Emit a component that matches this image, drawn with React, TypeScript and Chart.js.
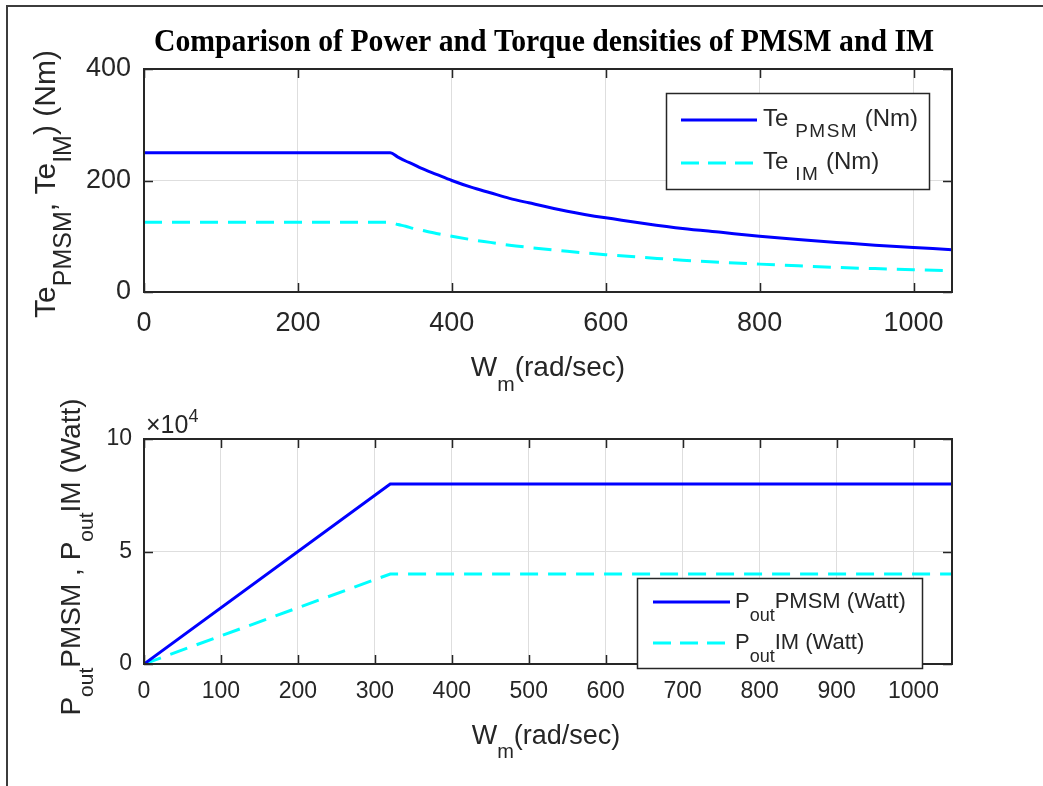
import React, { useEffect, useRef } from "react";
import { Chart, registerables } from "chart.js";
Chart.register(...registerables);

const TITLE = "Comparison of Power and Torque densities of PMSM and IM";

// Torque vs speed (rad/sec)
const speedTorque = [0, 320, 330, 340, 350, 360, 380, 400, 425, 450, 475, 500, 550, 600, 650, 700, 750, 800, 850, 900, 950, 1000, 1050];
const tePMSM = [250, 250, 242, 235, 229, 222, 211, 200, 188, 178, 168, 160, 145, 133, 123, 114, 107, 100, 94, 89, 84, 80, 76];
const teIM = [125, 125, 121, 118, 114, 111, 105, 100, 94, 89, 84, 80, 73, 67, 62, 57, 53, 50, 47, 44, 42, 40, 38];

// Power vs speed
const speedPower = [0, 320, 1050];
const pPMSM = [0, 80000, 80000];
const pIM = [0, 40000, 40000];

const torqueXTicks = [0, 200, 400, 600, 800, 1000];
const torqueYTicks = [0, 200, 400];
const powerXTicks = [0, 100, 200, 300, 400, 500, 600, 700, 800, 900, 1000];
const powerYTicks = [0, 50000, 100000];
const powerYTickLabels = ["0", "5", "10"];

const TXT = "#262626";
const AX = "#262626";
const GRID = "#dedede";
const SANS = "'Liberation Sans', Arial, Helvetica, sans-serif";

type Seg = { t: string; sub?: boolean; sup?: boolean };
type RichOpt = { size: number; subSize: number; subDy: number; supDy?: number; align?: "left" | "center"; subSpacing?: number };

function segFont(s: Seg, o: RichOpt) {
  return `${s.sub || s.sup ? o.subSize : o.size}px ${SANS}`;
}

function drawRich(ctx: CanvasRenderingContext2D, segs: Seg[], x: number, y: number, o: RichOpt, rotate = false) {
  ctx.save();
  ctx.fillStyle = TXT;
  ctx.textBaseline = "alphabetic";
  ctx.textAlign = "left";
  const anyCtx = ctx as any;
  let total = 0;
  const widths = segs.map((s) => {
    ctx.font = segFont(s, o);
    anyCtx.letterSpacing = s.sub && o.subSpacing ? `${o.subSpacing}px` : "0px";
    const w = ctx.measureText(s.t).width;
    total += w;
    return w;
  });
  ctx.translate(x, y);
  if (rotate) ctx.rotate(-Math.PI / 2);
  let cx = o.align === "center" ? -total / 2 : 0;
  segs.forEach((s, i) => {
    ctx.font = segFont(s, o);
    anyCtx.letterSpacing = s.sub && o.subSpacing ? `${o.subSpacing}px` : "0px";
    const dy = s.sub ? o.subDy : s.sup ? o.supDy || 0 : 0;
    ctx.fillText(s.t, cx, dy);
    cx += widths[i];
  });
  anyCtx.letterSpacing = "0px";
  ctx.restore();
}

type LegendItem = { color: string; dash: number[]; segs: Seg[] };
type PanelCfg = {
  title?: boolean;
  xLabel: { segs: Seg[]; x: number; y: number; o: RichOpt };
  yLabel: { segs: Seg[]; x: number; y: number; o: RichOpt };
  legend: { x0: number; y0: number; x1: number; y1: number; lineX0: number; lineX1: number; textX: number; rows: number[]; o: RichOpt; items: LegendItem[] };
  exponent?: { x: number; y: number };
};

function makePlugin(cfg: PanelCfg) {
  return {
    id: "matlabDecor",
    afterDraw(chart: any) {
      const ctx: CanvasRenderingContext2D = chart.ctx;
      const a = chart.chartArea;
      const xs = chart.scales.x;
      const ys = chart.scales.y;
      ctx.save();
      // ticks inside on all sides
      ctx.strokeStyle = AX;
      ctx.lineWidth = 1.5;
      const tl = 9;
      ctx.beginPath();
      xs.ticks.forEach((t: any) => {
        const px = Math.round(xs.getPixelForValue(t.value)) + 0.5;
        ctx.moveTo(px, a.bottom);
        ctx.lineTo(px, a.bottom - tl);
        ctx.moveTo(px, a.top);
        ctx.lineTo(px, a.top + tl);
      });
      ys.ticks.forEach((t: any) => {
        const py = Math.round(ys.getPixelForValue(t.value)) + 0.5;
        ctx.moveTo(a.left, py);
        ctx.lineTo(a.left + tl, py);
        ctx.moveTo(a.right, py);
        ctx.lineTo(a.right - tl, py);
      });
      ctx.stroke();
      // box
      ctx.lineWidth = 2;
      ctx.strokeRect(a.left, a.top, a.right - a.left, a.bottom - a.top);

      // title
      if (cfg.title) {
        const size = 32;
        ctx.font = `bold ${size}px 'Liberation Serif', 'Times New Roman', serif`;
        const w = ctx.measureText(TITLE).width;
        ctx.save();
        ctx.translate(544, 51);
        ctx.scale(780 / w, 1);
        ctx.fillStyle = "#000";
        ctx.textAlign = "center";
        ctx.textBaseline = "alphabetic";
        ctx.fillText(TITLE, 0, 0);
        ctx.restore();
      }

      // axis labels
      drawRich(ctx, cfg.xLabel.segs, cfg.xLabel.x, cfg.xLabel.y, cfg.xLabel.o);
      drawRich(ctx, cfg.yLabel.segs, cfg.yLabel.x, cfg.yLabel.y, cfg.yLabel.o, true);

      if (cfg.exponent) {
        drawRich(ctx, [{ t: "\u00d710" }, { t: "4", sup: true }], cfg.exponent.x, cfg.exponent.y, {
          size: 25,
          subSize: 18,
          subDy: 0,
          supDy: -11,
        });
      }

      // legend
      const L = cfg.legend;
      ctx.fillStyle = "#fff";
      ctx.fillRect(L.x0, L.y0, L.x1 - L.x0, L.y1 - L.y0);
      ctx.strokeStyle = AX;
      ctx.lineWidth = 1.5;
      ctx.strokeRect(L.x0 + 0.5, L.y0 + 0.5, L.x1 - L.x0, L.y1 - L.y0);
      L.items.forEach((it, i) => {
        const ly = L.rows[i];
        ctx.save();
        ctx.strokeStyle = it.color;
        ctx.lineWidth = 3;
        ctx.setLineDash(it.dash);
        ctx.beginPath();
        ctx.moveTo(L.lineX0, ly);
        ctx.lineTo(L.lineX1, ly);
        ctx.stroke();
        ctx.restore();
        drawRich(ctx, it.segs, L.textX, ly + 6, L.o);
      });
      ctx.restore();
    },
  };
}

function buildChart(
  canvas: HTMLCanvasElement,
  xVals: number[],
  s1: number[],
  s2: number[],
  xTicks: number[],
  yTicks: number[],
  yLabels: string[] | null,
  xMax: number,
  yMax: number,
  layout: { top: number; right: number; yAxisW: number; xAxisH: number; fontSize: number; xPad: number; yPad: number; smooth: boolean },
  cfg: PanelCfg
) {
  const d1 = xVals.map((x, i) => ({ x, y: s1[i] }));
  const d2 = xVals.map((x, i) => ({ x, y: s2[i] }));
  const interp = layout.smooth ? "monotone" : "default";
  return new Chart(canvas, {
    type: "line",
    data: {
      datasets: [
        { data: d1, borderColor: "#0000ff", borderWidth: 3, pointRadius: 0, tension: 0, cubicInterpolationMode: interp, fill: false },
        { data: d2, borderColor: "#00ffff", borderWidth: 3, borderDash: [18, 10], pointRadius: 0, tension: 0, cubicInterpolationMode: interp, fill: false },
      ],
    },
    options: {
      responsive: false,
      animation: false,
      events: [],
      layout: { padding: { left: 0, top: layout.top, right: layout.right, bottom: 0 } },
      plugins: { legend: { display: false }, tooltip: { enabled: false }, title: { display: false } },
      scales: {
        x: {
          type: "linear",
          min: 0,
          max: xMax,
          border: { display: false },
          grid: { color: GRID, lineWidth: 1, drawTicks: false },
          ticks: {
            color: TXT,
            font: { family: SANS, size: layout.fontSize },
            padding: layout.xPad,
            maxRotation: 0,
            autoSkip: false,
            callback: (v: any) => String(v),
          },
          afterBuildTicks: (s: any) => {
            s.ticks = xTicks.map((v) => ({ value: v }));
          },
          afterFit: (s: any) => {
            s.height = layout.xAxisH;
          },
        },
        y: {
          type: "linear",
          min: 0,
          max: yMax,
          border: { display: false },
          grid: { color: GRID, lineWidth: 1, drawTicks: false },
          ticks: {
            color: TXT,
            font: { family: SANS, size: layout.fontSize },
            padding: layout.yPad,
            autoSkip: false,
            callback: (v: any) => {
              const idx = yTicks.indexOf(Number(v));
              return yLabels && idx >= 0 ? yLabels[idx] : String(v);
            },
          },
          afterBuildTicks: (s: any) => {
            s.ticks = yTicks.map((v) => ({ value: v }));
          },
          afterFit: (s: any) => {
            s.width = layout.yAxisW;
          },
        },
      },
    },
    plugins: [makePlugin(cfg)],
  } as any);
}

export default function App() {
  const topRef = useRef<HTMLCanvasElement>(null);
  const botRef = useRef<HTMLCanvasElement>(null);

  useEffect(() => {
    const c1 = buildChart(
      topRef.current!,
      speedTorque,
      tePMSM,
      teIM,
      torqueXTicks,
      torqueYTicks,
      null,
      1050,
      400,
      { top: 69, right: 91, yAxisW: 144, xAxisH: 101, fontSize: 27, xPad: 15, yPad: 13, smooth: true },
      {
        title: true,
        xLabel: {
          segs: [{ t: "W" }, { t: "m", sub: true }, { t: "(rad/sec)" }],
          x: 548,
          y: 376,
          o: { size: 28, subSize: 21, subDy: 15, align: "center" },
        },
        yLabel: {
          segs: [{ t: "Te" }, { t: "PMSM", sub: true }, { t: ", Te" }, { t: "IM", sub: true }, { t: ") (Nm)" }],
          x: 55,
          y: 184,
          o: { size: 30, subSize: 25, subDy: 16, align: "center" },
        },
        legend: {
          x0: 666,
          y0: 93,
          x1: 929,
          y1: 189,
          lineX0: 681,
          lineX1: 757,
          textX: 763,
          rows: [120, 163],
          o: { size: 24, subSize: 19, subDy: 11, subSpacing: 1.5 },
          items: [
            { color: "#0000ff", dash: [], segs: [{ t: "Te" }, { t: " PMSM", sub: true }, { t: " (Nm)" }] },
            { color: "#00ffff", dash: [18, 9], segs: [{ t: "Te" }, { t: " IM", sub: true }, { t: " (Nm)" }] },
          ],
        },
      }
    );
    const c2 = buildChart(
      botRef.current!,
      speedPower,
      pPMSM,
      pIM,
      powerXTicks,
      powerYTicks,
      powerYTickLabels,
      1050,
      100000,
      { top: 46, right: 91, yAxisW: 144, xAxisH: 122, fontSize: 23, xPad: 14, yPad: 12, smooth: false },
      {
        xLabel: {
          segs: [{ t: "W" }, { t: "m", sub: true }, { t: "(rad/sec)" }],
          x: 546,
          y: 351,
          o: { size: 27, subSize: 20, subDy: 14, align: "center" },
        },
        yLabel: {
          segs: [{ t: "P" }, { t: "out", sub: true }, { t: "PMSM , P" }, { t: "out", sub: true }, { t: "IM (Watt)" }],
          x: 80,
          y: 164,
          o: { size: 28, subSize: 21, subDy: 13, align: "center" },
        },
        legend: {
          x0: 637,
          y0: 185,
          x1: 922,
          y1: 275,
          lineX0: 653,
          lineX1: 730,
          textX: 735,
          rows: [209, 250],
          o: { size: 22, subSize: 18, subDy: 13 },
          items: [
            { color: "#0000ff", dash: [], segs: [{ t: "P" }, { t: "out", sub: true }, { t: "PMSM (Watt)" }] },
            { color: "#00ffff", dash: [18, 9], segs: [{ t: "P" }, { t: "out", sub: true }, { t: "IM (Watt)" }] },
          ],
        },
        exponent: { x: 146, y: 40 },
      }
    );
    return () => {
      c1.destroy();
      c2.destroy();
    };
  }, []);

  return (
    <div style={{ position: "absolute", left: 0, top: 0, width: 1043, height: 786, background: "#fff", overflow: "hidden" }}>
      <div
        style={{
          position: "absolute",
          left: 6,
          top: 5,
          width: 1043,
          height: 786,
          borderLeft: "2px solid #3c3c3c",
          borderTop: "2px solid #3c3c3c",
          boxSizing: "border-box",
        }}
      />
      <canvas ref={topRef} width={1043} height={393} style={{ position: "absolute", left: 0, top: 0, width: 1043, height: 393 }} />
      <canvas ref={botRef} width={1043} height={393} style={{ position: "absolute", left: 0, top: 393, width: 1043, height: 393 }} />
    </div>
  );
}
